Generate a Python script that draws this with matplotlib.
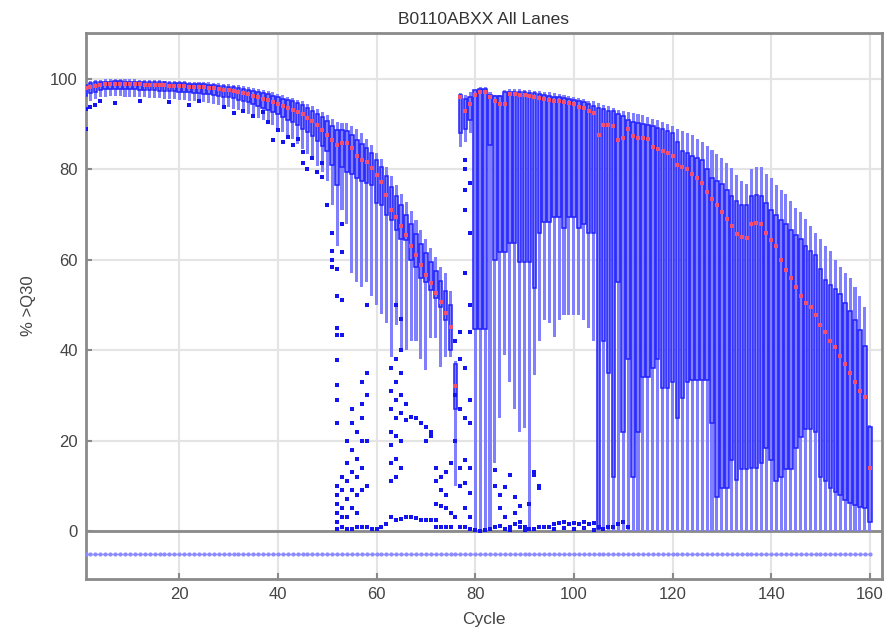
import numpy as np
import matplotlib.pyplot as plt

plt.rcParams['font.family'] = ['Liberation Sans', 'DejaVu Sans']

cycles = np.arange(1, 161)

# per-cycle box statistics for %>Q30 (cycles 1..160, ten per row)
med = [98.0, 98.3, 98.5, 98.6, 98.8, 98.8, 98.9, 98.9, 98.8, 98.8,
       98.8, 98.8, 98.7, 98.7, 98.7, 98.6, 98.6, 98.5, 98.5, 98.4,
       98.4, 98.3, 98.3, 98.2, 98.1, 98.0, 97.9, 97.8, 97.6, 97.5,
       97.3, 97.1, 96.9, 96.6, 96.3, 96.0, 95.6, 95.3, 94.9, 94.5,
       94.0, 93.6, 93.2, 92.7, 92.2, 91.4, 90.7, 89.8, 88.8, 87.6,
       86.5, 85.4, 85.8, 85.8, 84.7, 83.0, 82.0, 81.6, 80.3, 78.8,
       77.3, 74.3, 71.0, 69.5, 67.5, 65.5, 63.0, 61.0, 58.8, 56.6,
       54.9, 52.6, 50.7, 48.2, 45.1, 32.0, 96.0, 93.0, 94.5, 96.5,
       97.0, 97.0, 96.0, 95.0, 94.5, 94.5, 96.7, 96.6, 96.5, 96.5,
       96.2, 96.0, 95.8, 95.5, 95.3, 95.0, 95.0, 94.8, 94.7, 94.5,
       93.8, 93.5, 93.0, 92.5, 87.6, 89.8, 89.8, 89.5, 86.5, 87.0,
       89.0, 87.3, 87.0, 87.0, 86.8, 85.0, 84.5, 84.0, 83.5, 83.0,
       81.0, 80.5, 80.0, 79.0, 78.0, 77.0, 75.0, 73.5, 72.0, 70.5,
       69.0, 67.5, 65.7, 65.0, 64.8, 68.0, 68.2, 68.0, 66.0, 64.3,
       63.0, 60.0, 57.8, 56.0, 54.0, 52.0, 50.5, 49.5, 47.8, 45.6,
       44.0, 42.0, 40.7, 38.7, 37.0, 35.0, 33.0, 31.0, 29.6, 14.0]

q3 = [98.7, 99.0, 99.2, 99.3, 99.4, 99.4, 99.5, 99.5, 99.4, 99.4,
      99.4, 99.4, 99.3, 99.3, 99.3, 99.2, 99.2, 99.1, 99.1, 99.0,
      99.0, 98.9, 98.9, 98.8, 98.8, 98.7, 98.6, 98.5, 98.4, 98.3,
      98.1, 98.0, 97.8, 97.6, 97.4, 97.2, 96.9, 96.6, 96.3, 96.0,
      95.6, 95.3, 95.0, 94.6, 94.2, 93.6, 93.0, 92.3, 91.5, 90.6,
      89.6, 88.6, 88.6, 88.5, 87.6, 86.4, 85.6, 84.8, 83.5, 82.0,
      80.6, 78.5, 76.0, 74.0, 72.0, 70.0, 67.8, 65.6, 63.5, 61.5,
      59.6, 57.5, 55.4, 53.0, 50.0, 37.0, 96.5, 95.5, 96.0, 97.5,
      97.8, 97.8, 96.5, 96.3, 96.2, 97.0, 97.2, 97.2, 97.1, 97.0,
      96.9, 96.8, 96.6, 96.4, 96.2, 96.0, 96.0, 95.8, 95.6, 95.4,
      95.0, 94.8, 94.4, 94.0, 93.5, 93.4, 93.0, 92.8, 92.2, 91.8,
      90.8, 90.4, 90.2, 90.0, 89.8, 89.5, 89.2, 89.0, 88.5, 88.0,
      86.0, 84.0, 83.5, 83.0, 82.5, 82.0, 80.0, 78.0, 77.5, 76.8,
      75.5, 74.0, 73.0, 72.0, 72.0, 74.0, 74.3, 74.0, 72.5, 71.0,
      69.8, 68.8, 68.0, 66.5, 65.5, 64.6, 63.0, 62.0, 61.0, 58.0,
      55.5, 54.5, 53.5, 52.5, 50.5, 48.7, 46.7, 44.5, 41.0, 23.0]

whi = [99.2, 99.5, 99.7, 99.8, 99.9, 99.9, 99.9, 99.9, 99.9, 99.9,
       99.9, 99.8, 99.8, 99.8, 99.7, 99.7, 99.6, 99.6, 99.5, 99.5,
       99.5, 99.4, 99.4, 99.3, 99.2, 99.2, 99.1, 99.0, 98.9, 98.8,
       98.7, 98.6, 98.4, 98.2, 98.0, 97.8, 97.6, 97.3, 97.0, 96.7,
       96.4, 96.1, 95.8, 95.4, 95.0, 94.5, 94.0, 93.4, 92.7, 92.0,
       91.2, 90.4, 90.3, 90.2, 89.6, 89.0, 88.0, 86.8, 85.3, 83.6,
       82.2, 80.5, 78.5, 76.5, 74.6, 72.8, 70.8, 68.8, 66.5, 64.5,
       62.5, 60.5, 58.5, 57.0, 53.0, 37.5, 96.9, 96.5, 97.0, 97.6,
       98.2, 98.2, 97.0, 96.5, 96.5, 97.6, 97.8, 97.8, 97.7, 97.6,
       97.5, 97.4, 97.3, 97.1, 97.0, 96.8, 96.6, 96.5, 96.3, 96.0,
       95.8, 95.5, 95.2, 95.0, 94.6, 94.3, 94.0, 93.6, 93.2, 92.9,
       92.7, 92.5, 92.2, 92.0, 91.6, 91.2, 90.9, 90.5, 90.0, 89.6,
       89.0, 88.5, 88.0, 87.5, 86.8, 86.0, 85.2, 84.3, 83.3, 82.5,
       81.5, 80.3, 78.8, 77.5, 76.8, 80.0, 80.5, 80.5, 79.0, 78.0,
       76.5, 75.5, 74.5, 73.0, 71.5, 70.5, 69.0, 67.5, 66.0, 64.5,
       63.0, 62.0, 60.0, 58.5, 57.0, 56.0, 54.0, 52.0, 49.5, 23.5]

q1 = [96.3, 96.8, 97.2, 97.5, 97.7, 97.8, 97.8, 97.8, 97.7, 97.7,
      97.7, 97.6, 97.6, 97.5, 97.5, 97.4, 97.4, 97.3, 97.3, 97.2,
      97.1, 97.0, 96.9, 96.8, 96.7, 96.6, 96.5, 96.3, 96.1, 95.9,
      95.7, 95.4, 95.1, 94.8, 94.4, 94.0, 93.6, 93.2, 92.7, 92.2,
      91.6, 91.0, 90.4, 89.8, 89.0, 88.2, 87.3, 86.3, 85.2, 84.0,
      81.0, 76.5, 80.5, 79.4, 79.0, 78.0, 77.5, 77.0, 76.5, 72.5,
      72.0, 70.0, 68.8, 66.5, 64.5, 64.4, 60.0, 58.4, 56.0, 55.0,
      53.3, 51.5, 49.5, 46.7, 40.0, 27.0, 88.0, 89.0, 91.0, 44.7,
      44.7, 44.7, 85.4, 60.0, 61.7, 61.7, 63.7, 63.7, 59.5, 59.5,
      59.5, 53.7, 66.0, 68.4, 68.4, 69.5, 69.5, 67.0, 69.5, 69.5,
      67.0, 68.0, 66.0, 66.0, 0.5, 42.0, 35.0, 12.0, 55.0, 22.0,
      38.0, 12.0, 22.0, 34.0, 34.0, 36.0, 38.0, 31.6, 31.6, 33.0,
      25.0, 29.4, 33.0, 33.5, 33.5, 33.5, 33.5, 24.0, 7.6, 9.5,
      9.5, 15.7, 11.3, 13.7, 13.7, 14.0, 14.0, 15.0, 18.3, 15.7,
      11.0, 12.0, 13.7, 13.7, 18.3, 20.8, 22.6, 22.6, 22.0, 12.0,
      11.0, 9.5, 8.7, 8.0, 6.9, 6.1, 5.8, 5.3, 5.0, 2.0]

wlo = [94.5, 95.0, 95.5, 96.0, 96.0, 96.2, 96.2, 96.2, 96.1, 96.0,
       96.0, 96.0, 95.9, 95.8, 95.8, 95.7, 95.6, 95.6, 95.5, 95.4,
       95.3, 95.2, 95.1, 95.0, 94.9, 94.7, 94.5, 94.3, 94.0, 93.7,
       93.4, 93.1, 92.7, 92.3, 91.9, 91.4, 90.9, 90.3, 89.7, 89.0,
       88.3, 87.5, 86.6, 85.6, 84.6, 83.4, 82.2, 80.8, 79.3, 77.5,
       72.0, 63.0, 71.0, 68.0, 57.0, 55.0, 54.0, 55.0, 52.0, 50.0,
       48.0, 46.0, 38.5, 45.6, 40.0, 40.0, 42.0, 42.0, 38.0, 35.6,
       42.7, 42.7, 36.3, 38.5, 38.5, 10.0, 85.0, 86.0, 88.0, 0.0,
       0.0, 0.0, 0.0, 15.0, 25.0, 39.0, 33.0, 27.0, 22.0, 22.7,
       0.0, 34.5, 42.0, 46.7, 46.0, 43.0, 46.7, 47.8, 47.8, 47.8,
       47.8, 46.7, 45.0, 42.0, 0.0, 0.0, 0.0, 0.0, 0.0, 0.0,
       0.0, 0.0, 0.0, 0.0, 0.0, 0.0, 0.0, 0.0, 0.0, 0.0,
       0.0, 0.0, 0.0, 0.0, 0.0, 0.0, 0.0, 0.0, 0.0, 0.0,
       0.0, 0.0, 0.0, 0.0, 0.0, 0.0, 0.0, 0.0, 0.0, 0.0,
       0.0, 0.0, 0.0, 0.0, 0.0, 0.0, 0.0, 0.0, 0.0, 0.0,
       0.0, 0.0, 0.0, 0.0, 0.0, 0.0, 0.0, 0.0, 0.0, 0.0]

# tiles outside the whiskers: (cycle, %>Q30)
outliers = [
    (1, 89.0), (1, 93.3), (2, 93.8), (3, 94.2), (4, 95.0), (7, 94.6), (12, 95.2),
    (18, 94.8), (22, 94.3), (24, 95.0), (29, 93.8), (31, 92.4), (33, 93.0),
    (35, 91.8), (37, 92.6), (38, 90.5), (39, 86.5), (40, 88.8), (41, 86.0),
    (42, 87.2), (43, 85.3), (44, 86.8), (45, 83.8), (45, 81.4), (46, 80.0),
    (47, 82.5), (48, 79.5), (49, 81.4), (49, 78.3), (50, 72.0), (51, 66.0),
    (51, 62.0), (51, 60.0), (51, 58.5), (52, 58.0), (52, 52.0), (52, 45.0),
    (53, 68.0), (53, 61.7), (52, 43.4), (52, 37.8), (52, 32.3), (52, 29.0),
    (52, 24.0), (53, 51.0), (53, 43.4), (58, 50.0),
    (52, 10.0), (52, 8.0), (52, 6.0), (52, 4.0), (52, 2.0), (52, 0.5),
    (53, 12.0), (53, 9.0), (53, 5.0), (53, 3.0), (53, 1.0),
    (54, 20.0), (54, 15.0), (54, 11.0), (54, 7.0), (54, 3.0), (54, 0.5),
    (55, 27.0), (55, 24.0), (55, 18.0), (55, 13.0), (55, 9.0), (55, 5.0), (55, 0.5),
    (56, 22.0), (56, 16.0), (56, 12.0), (56, 8.0), (56, 4.0), (56, 1.0),
    (57, 33.0), (57, 28.0), (57, 25.0), (57, 20.0), (57, 14.0), (57, 9.0), (57, 0.8),
    (58, 35.0), (58, 30.0), (58, 20.0), (58, 10.0), (58, 1.0),
    (59, 0.5), (60, 0.5), (61, 1.0), (62, 1.5),
    (63, 36.0), (63, 31.0), (63, 27.0), (63, 22.0), (63, 19.0), (63, 15.0), (63, 11.0), (63, 3.0),
    (64, 50.0), (64, 38.0), (64, 33.0), (64, 29.0), (64, 25.0), (64, 21.0), (64, 16.0), (64, 12.0), (64, 2.5),
    (65, 47.0), (65, 40.0), (65, 35.0), (65, 30.0), (65, 26.0), (65, 20.0), (65, 14.0), (65, 2.6),
    (66, 28.0), (66, 24.5), (66, 3.0), (67, 25.3), (67, 3.0), (68, 25.0), (68, 2.8),
    (69, 24.0), (69, 2.5), (70, 23.0), (70, 20.0), (70, 2.5), (71, 22.0), (71, 21.0),
    (71, 2.5), (72, 14.0), (72, 11.0), (72, 6.0), (72, 2.5), (72, 1.0),
    (73, 12.0), (73, 9.0), (73, 5.5), (73, 1.0), (74, 13.0), (74, 8.0), (74, 5.0), (74, 1.0),
    (75, 15.0), (75, 4.0), (75, 1.0), (76, 42.0), (76, 30.0), (76, 20.0), (76, 3.0),
    (77, 44.0), (77, 38.0), (77, 27.0), (77, 14.0), (77, 10.0), (77, 1.0),
    (78, 82.0), (78, 80.0), (78, 75.5), (78, 71.0), (78, 57.0), (78, 36.0), (78, 25.0),
    (78, 15.7), (78, 10.6), (78, 5.0), (78, 1.0),
    (79, 77.0), (79, 66.0), (79, 50.0), (79, 44.0), (79, 29.0), (79, 24.0), (79, 14.0),
    (79, 8.4), (79, 3.0), (79, 0.5),
    (84, 13.5), (84, 10.0), (85, 8.0), (85, 5.0), (86, 3.0), (86, 9.7), (87, 12.5),
    (88, 7.5), (88, 4.0), (89, 2.0), (89, 5.5), (87, 1.0), (90, 1.0), (92, 13.0),
    (92, 12.5), (93, 10.0), (93, 9.5), (91, 6.0),
    (80, 0.2), (81, 0.1), (82, 0.3), (83, 0.5), (84, 0.8), (85, 1.2), (86, 0.5),
    (87, 0.3), (88, 1.5), (89, 0.8), (90, 0.3), (91, 0.5), (92, 0.4), (93, 0.8),
    (94, 0.8), (95, 1.0), (96, 1.5), (97, 1.8), (98, 2.0), (99, 1.5), (100, 1.8),
    (101, 1.5), (102, 2.0), (103, 1.5), (104, 1.8), (105, 1.0), (106, 0.5),
    (107, 1.0), (108, 0.8), (109, 1.5), (110, 2.0), (111, 1.0), (96, 0.4),
    (98, 0.6), (100, 0.5), (102, 0.6), (104, 0.3),
]

# status track drawn under the zero line
track = [-5.0] * len(cycles)

out_x = [c for c, v in outliers]
out_y = [v for c, v in outliers]

med = np.array(med); q1 = np.array(q1); q3 = np.array(q3)
wlo = np.array(wlo); whi = np.array(whi)

fig = plt.figure(figsize=(8.96, 6.3), dpi=100)
ax = fig.add_axes([0.096, 0.081, 0.888, 0.867])

# whiskers as light bars, boxes outlined on top
ax.bar(cycles, whi - wlo, bottom=wlo, width=0.62, color='#8080ff',
       linewidth=0, zorder=2)
ax.bar(cycles, q3 - q1, bottom=q1, width=0.72, facecolor='#8080ff',
       edgecolor='#2020ff', linewidth=1.1, zorder=3)
ax.scatter(out_x, out_y, marker='s', s=7, color='#1414ee', linewidths=0, zorder=4)
ax.scatter(cycles, med, marker='s', s=5, color='#f2506e', linewidths=0, zorder=5)

ax.plot(cycles, track, color='#8c8cff', lw=1, marker='o', ms=2, zorder=3)
ax.axhline(0, color='#8a8a8a', lw=2, zorder=1.5)

ax.set_xlim(1.1, 162.4)
ax.set_ylim(-10.6, 110.2)
ax.set_xticks(np.arange(20, 161, 20))
ax.set_yticks(np.arange(0, 101, 20))
ax.grid(True, color='#e4e4e4', lw=1.5, zorder=0)
ax.set_axisbelow(True)

for s in ax.spines.values():
    s.set_color('#8a8a8a')
    s.set_linewidth(2)
ax.tick_params(direction='in', length=4, width=1.5, color='#8a8a8a',
               labelsize=12, labelcolor='#444444', pad=6)

ax.set_title('B0110ABXX All Lanes', fontsize=12.5, color='#333333', pad=6)
ax.set_xlabel('Cycle', fontsize=12.5, color='#444444', labelpad=7)
ax.set_ylabel('% >Q30', fontsize=12, color='#444444', labelpad=10)

fig.savefig('out.png', dpi=100)
